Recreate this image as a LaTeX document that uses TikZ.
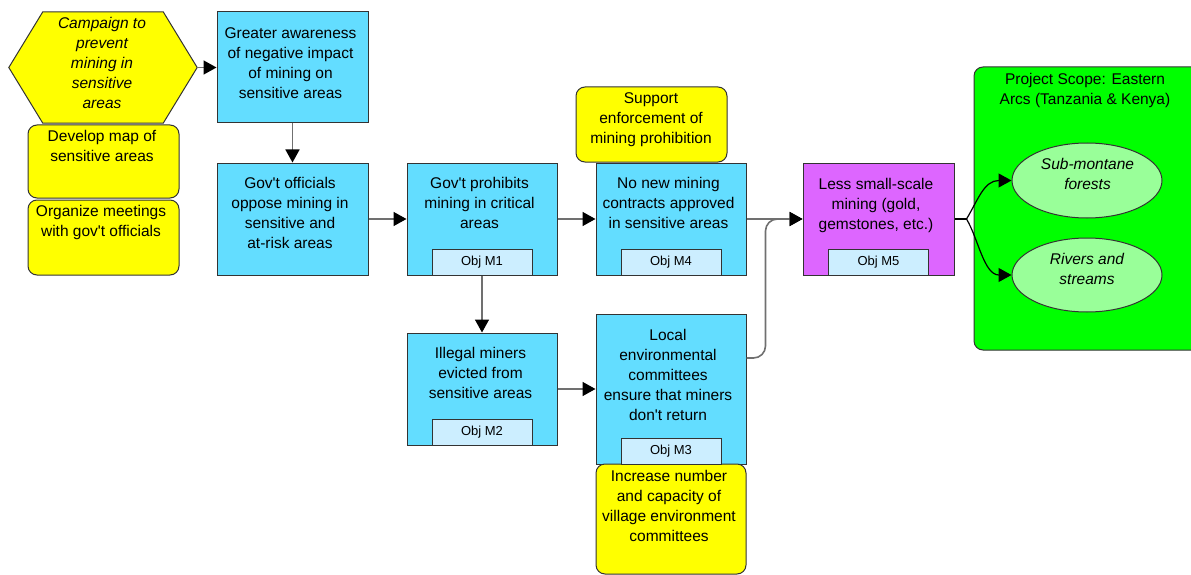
\documentclass[tikz,border=0pt]{standalone}
\usepackage{fontspec}
\setmainfont{Liberation Sans}
\usetikzlibrary{arrows.meta,shapes.geometric}

\definecolor{actyellow}{RGB}{255,255,0}
\definecolor{factblue}{RGB}{99,221,255}
\definecolor{objblue}{RGB}{204,238,255}
\definecolor{targetpink}{RGB}{221,102,255}
\definecolor{scopegreen}{RGB}{0,255,0}
\definecolor{ovalgreen}{RGB}{153,255,153}
\definecolor{edgegray}{RGB}{51,51,51}
\definecolor{linkgray}{RGB}{112,112,112}

\newcommand{\apos}{\textquotesingle}

\begin{document}
\begin{tikzpicture}[x=1pt,y=-1pt,
  font=\fontsize{15.5}{20}\selectfont,
  box/.style={draw=edgegray, line width=1pt, fill=factblue, inner sep=0pt,
    minimum width=150pt, minimum height=112pt},
  act/.style={box, fill=actyellow, rounded corners=9pt, minimum width=151pt},
  objbox/.style={draw=edgegray, line width=1pt, fill=objblue, inner sep=0pt,
    minimum width=100pt, minimum height=26pt, anchor=south,
    font=\fontsize{13}{15}\selectfont},
  txt/.style={anchor=north, align=center, inner sep=0pt},
  link/.style={draw=linkgray, line width=1.6pt,
    -{Triangle[length=13pt,width=14pt,color=black]}},
  fork/.style={draw=black, line width=1.2pt,
    -{Triangle[length=13pt,width=14pt,color=black]}}]

% ---------- page: 1191 x 575 px, 1px = 1pt, y runs down ----------
\useasboundingbox (0,0) rectangle (1191,575);

% ---------- project scope (runs past the right edge) ----------
\draw[draw=edgegray, line width=1pt, fill=scopegreen, rounded corners=9pt]
  (974,67) rectangle (1205,350);
\node[txt] (scopetxt) at (1085,73) {Project Scope: Eastern\\Arcs (Tanzania \& Kenya)};

% ---------- strategies (yellow) ----------
% hexagon: tips at x=9 and x=197, flat top/bottom 43..163
\node[inner sep=0pt, minimum width=188pt, minimum height=111pt] (hex) at (103,67.5) {};
\draw[draw=edgegray, line width=1pt, fill=actyellow]
  (hex.west) -- ([xshift=34pt]hex.north west) -- ([xshift=-34pt]hex.north east)
  -- (hex.east) -- ([xshift=-34pt]hex.south east) -- ([xshift=34pt]hex.south west) -- cycle;
\node[txt, font=\fontsize{15.5}{20}\selectfont\itshape] (hextxt) at (102,17)
  {Campaign to\\prevent\\mining in\\sensitive\\areas};
\node[act, minimum height=73pt] (map) at (103.5,161.5) {};
\node[txt] (maptxt) at (102,130) {Develop map of\\sensitive areas};
\node[act, minimum height=75pt] (meet) at (103.5,237.5) {};
\node[txt] (meettxt) at (101,205) {Organize meetings\\with gov\apos t officials};
\node[act, minimum height=75pt] (enforce) at (651.5,124.5) {};
\node[txt] (enforcetxt) at (651,92) {Support\\enforcement of\\mining prohibition};

% ---------- factors (blue) ----------
\node[box, minimum width=151pt, minimum height=111pt] (aware) at (292.5,67.5) {};
\node[txt] (awaretxt) at (290.5,27)
  {Greater awareness\\of negative impact\\of mining on\\sensitive areas};
\node[box, minimum width=151pt] (oppose) at (292.5,219) {};
\node[txt] (opposetxt) at (290,177)
  {Gov\apos t officials\\oppose mining in\\sensitive and\\ at-risk areas};
\node[box] (prohibit) at (482,219) {};
\node[txt] (prohibittxt) at (479.5,177) {Gov\apos t prohibits\\mining in critical\\areas};
\node[box] (contracts) at (671,219) {};
\node[txt] (contractstxt) at (668.5,177)
  {No new mining\\contracts approved\\in sensitive areas};
\node[box] (evict) at (482,389) {};
\node[txt] (evicttxt) at (480.5,347) {Illegal miners\\evicted from\\sensitive areas};
\node[box, minimum height=150pt] (local) at (671,389) {};
\node[txt] (localtxt) at (668,329)
  {Local\\environmental\\committees\\ensure that miners\\don\apos t return};
\node[act, minimum width=150pt, minimum height=110pt] (village) at (671,519) {};
\node[txt] (villagetxt) at (669,470)
  {Increase number\\and capacity of\\village environment\\committees};

% ---------- threat (pink) ----------
\node[box, fill=targetpink, minimum width=151pt] (mining) at (878.5,219) {};
\node[txt] (miningtxt) at (876,178)
  {Less small-scale\\mining (gold,\\gemstones, etc.)};

% ---------- objective tags ----------
\node[objbox] (m1) at (prohibit.south) {Obj M1};
\node[objbox] (m4) at (contracts.south) {Obj M4};
\node[objbox] (m2) at (evict.south) {Obj M2};
\node[objbox] (m3) at (local.south) {Obj M3};
\node[objbox] (m5) at (mining.south) {Obj M5};

% ---------- targets ----------
\node[ellipse, draw=edgegray, line width=1pt, fill=ovalgreen,
  minimum width=150pt, minimum height=75pt] (forest) at (1087,180.5) {};
\node[txt, font=\fontsize{15.5}{20}\selectfont\itshape] (foresttxt) at (1087.5,158)
  {Sub-montane\\forests};
\node[ellipse, draw=edgegray, line width=1pt, fill=ovalgreen,
  minimum width=150pt, minimum height=74pt] (rivers) at (1087,275) {};
\node[txt, font=\fontsize{15.5}{20}\selectfont\itshape] (riverstxt) at (1087,253)
  {Rivers and\\streams};

% ---------- links ----------
\draw[link] (hex.east) -- (aware.west);
\draw[link] (aware.south) -- (oppose.north);
\draw[link] (oppose.east) -- (prohibit.west);
\draw[link] (prohibit.east) -- (contracts.west);
\draw[link] (prohibit.south) -- (evict.north);
\draw[link] (evict.east) -- (local.west);
\draw[link] (contracts.east) -- (mining.west);
\draw[link, rounded corners=12pt] ([yshift=31pt]local.east) -- ++(19,0) |- (mining.west);

% fork into the two targets
\draw[draw=black, line width=1.2pt] (mining.east) -- ++(12,0) coordinate (split);
\draw[fork] (split) .. controls (978,200) and (984,180.5) .. (forest.west);
\draw[fork] (split) .. controls (978,238) and (984,275) .. (rivers.west);

\end{tikzpicture}
\end{document}
